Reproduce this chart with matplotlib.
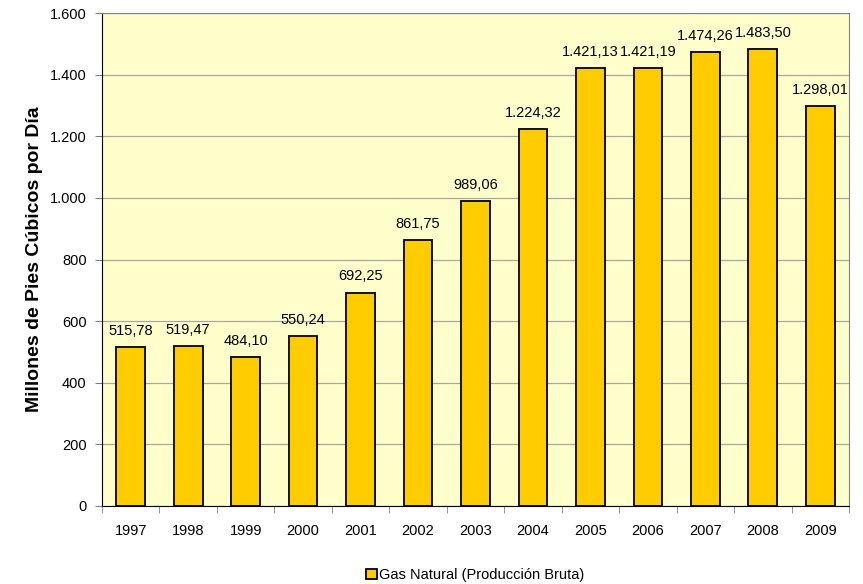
import matplotlib.pyplot as plt
import numpy as np

# data
years = ['1997', '1998', '1999', '2000', '2001', '2002', '2003',
         '2004', '2005', '2006', '2007', '2008', '2009']
gas = [515.78, 519.47, 484.10, 550.24, 692.25, 861.75, 989.06,
       1224.32, 1421.13, 1421.19, 1474.26, 1483.50, 1298.01]
yticks = [0, 200, 400, 600, 800, 1000, 1200, 1400, 1600]


def es_fmt(v, dec=2):  # format number with '.' thousands and ',' decimals
    s = f'{v:,.{dec}f}'
    return s.replace(',', 'X').replace('.', ',').replace('X', '.')


plt.rcParams['font.family'] = ['Liberation Sans', 'DejaVu Sans']

fig = plt.figure(figsize=(8.63, 5.84), dpi=100)
ax = fig.add_axes([0.1182, 0.1336, 0.8656, 0.8441])
ax.set_facecolor('#FFFFCC')

x = np.arange(len(years))
bars = ax.bar(x, gas, width=0.5, color='#FFCC00', edgecolor='black',
              linewidth=1.3, zorder=3, label='Gas Natural (Producción Bruta)')

for xi, v in zip(x, gas):
    ax.text(xi, v + 30, es_fmt(v), ha='center', va='bottom', fontsize=10.5)

ax.set_xlim(-0.5, len(years) - 0.5)
ax.set_ylim(0, 1600)
ax.set_yticks(yticks)
ax.set_yticklabels([es_fmt(t, 0) for t in yticks], fontsize=10.5)
ax.set_xticks(x)
ax.set_xticklabels(years, fontsize=10.5)
ax.xaxis.set_minor_locator(plt.FixedLocator(np.arange(-0.5, len(years), 1)))
ax.tick_params(axis='x', which='major', length=0, pad=13)
ax.tick_params(axis='x', which='minor', length=5, color='#808080')
ax.tick_params(axis='y', length=5, color='#808080', pad=6)
ax.yaxis.grid(True, color='#A8A8A0', linewidth=0.9, zorder=0)

ax.spines['left'].set_color('black')
ax.spines['bottom'].set_color('black')
ax.spines['top'].set_color('#808080')
ax.spines['right'].set_color('#808080')

ax.set_ylabel('Millones de Pies Cúbicos por Día', fontsize=14,
              fontweight='bold', labelpad=5)

leg = ax.legend(loc='upper center', bbox_to_anchor=(0.5, -0.1), frameon=False,
                fontsize=10.5, handlelength=0.7, handleheight=0.7,
                handletextpad=0.2)

plt.savefig('out.png', dpi=100)
